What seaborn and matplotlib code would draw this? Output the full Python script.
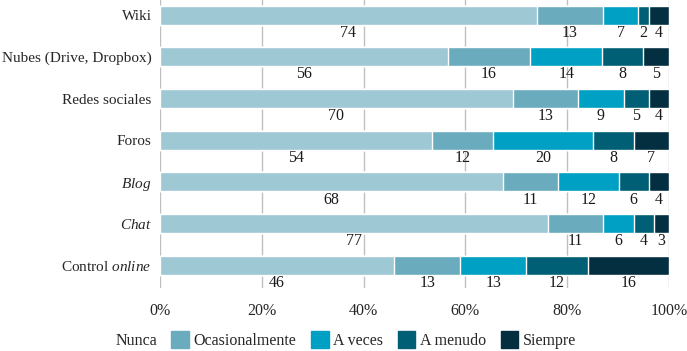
import seaborn as sns
import matplotlib.pyplot as plt
import matplotlib.patches as mpatches
import pandas as pd
import numpy as np

# datos
categorias = ["Wiki", "Nubes (Drive, Dropbox)", "Redes sociales", "Foros",
              "Blog", "Chat", "Control online"]
etiquetas_y = ["Wiki", "Nubes (Drive, Dropbox)", "Redes sociales", "Foros",
               r"$\mathit{Blog}$", r"$\mathit{Chat}$", r"Control $\mathit{online}$"]
respuestas = ["Nunca", "Ocasionalmente", "A veces", "A menudo", "Siempre"]
nunca = [74, 56, 70, 54, 68, 77, 46]
ocasionalmente = [13, 16, 13, 12, 11, 11, 13]
a_veces = [7, 14, 9, 20, 12, 6, 13]
a_menudo = [2, 8, 5, 8, 6, 4, 12]
siempre = [4, 5, 4, 7, 4, 3, 16]
colores = ["#9ec8d4", "#6aabbe", "#00a0c4", "#005f74", "#032f40"]

sns.set_theme(style="white")
plt.rcParams["font.family"] = ["Liberation Serif", "DejaVu Serif"]
plt.rcParams["mathtext.fontset"] = "custom"
plt.rcParams["mathtext.rm"] = "Liberation Serif"
plt.rcParams["mathtext.it"] = "Liberation Serif:italic"

df = pd.DataFrame({"Nunca": nunca, "Ocasionalmente": ocasionalmente,
                   "A veces": a_veces, "A menudo": a_menudo,
                   "Siempre": siempre}, index=categorias)
# normalizar a 100 %
pct = df.div(df.sum(axis=1), axis=0) * 100
acum = pct.cumsum(axis=1)

fig = plt.figure(figsize=(6.87, 3.51), dpi=100)
ax = fig.add_axes([160 / 687, 1 - 288 / 351, 509 / 687, 288 / 351])

# barras apiladas: del acumulado mayor al menor
for col, color in zip(reversed(respuestas), reversed(colores)):
    sns.barplot(x=acum[col].values, y=categorias, orient="h", color=color,
                width=0.455, ax=ax, saturation=1)

# etiquetas debajo de cada segmento
izq = acum - pct
for i, cat in enumerate(categorias):
    for col in respuestas:
        xm = izq.loc[cat, col] + pct.loc[cat, col] / 2
        ax.text(xm, i + 0.42, f"{df.loc[cat, col]}", ha="center", va="center",
                fontsize=11.5, color="#1a1a1a")

ax.set_xlim(0, 100)
ax.set_ylim(6.54, -0.36)
ax.set_xticks(range(0, 101, 20))
ax.set_xticklabels([f"{v}%" for v in range(0, 101, 20)], fontsize=11.5)
ax.set_yticks(range(len(categorias)))
ax.set_yticklabels(etiquetas_y, fontsize=11)
ax.tick_params(axis="x", pad=11, length=0)
ax.tick_params(axis="y", pad=6, length=0)
ax.xaxis.grid(True, color="#c0c0c0", linewidth=1)
ax.set_axisbelow(True)
for s in ax.spines.values():
    s.set_visible(False)
ax.set_xlabel("")
ax.set_ylabel("")

handles = [mpatches.Patch(color="none", label=respuestas[0])]
handles += [mpatches.Patch(color=c, label=r) for c, r in zip(colores[1:], respuestas[1:])]
fig.legend(handles=handles, loc="lower center", bbox_to_anchor=(0.487, -0.035),
           ncol=5, frameon=False, fontsize=11.5, handlelength=1.1,
           handleheight=1.3, handletextpad=0.3, columnspacing=0.9)

fig.savefig("out.png", dpi=100)
